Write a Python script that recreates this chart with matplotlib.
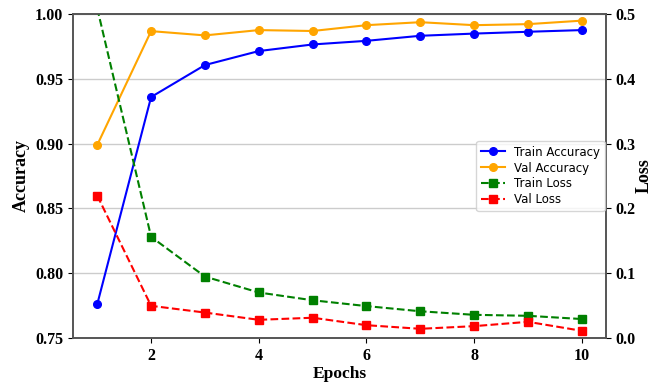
import numpy as np
import matplotlib.pyplot as plt

# podatki
epochs = [1, 2, 3, 4, 5, 6, 7, 8, 9, 10]
train_acc = [0.776, 0.936, 0.9607, 0.9715, 0.9766, 0.9794, 0.9833, 0.985, 0.9864, 0.9877]
val_acc = [0.899, 0.9869, 0.9836, 0.9877, 0.987, 0.9915, 0.9938, 0.9915, 0.9923, 0.995]
train_loss = [0.509, 0.156, 0.0946, 0.070, 0.058, 0.049, 0.041, 0.0355, 0.034, 0.029]
val_loss = [0.2196, 0.0494, 0.039, 0.0278, 0.031, 0.0195, 0.0139, 0.018, 0.0247, 0.0108]

serif = {'family': 'Liberation Serif', 'weight': 'bold'}

fig, ax1 = plt.subplots(figsize=(6.58, 3.83), dpi=100)
fig.subplots_adjust(left=0.111, right=0.921, top=0.963, bottom=0.118)

l1, = ax1.plot(epochs, train_acc, 'o-', color='blue', lw=1.5, ms=5.5, label='Train Accuracy')
l2, = ax1.plot(epochs, val_acc, 'o-', color='orange', lw=1.5, ms=5.5, label='Val Accuracy')
ax1.set_ylim(0.75, 1.0)
ax1.set_yticks([0.75, 0.80, 0.85, 0.90, 0.95, 1.00])
ax1.set_xticks([2, 4, 6, 8, 10])
ax1.grid(axis='y', color='#cccccc', lw=1)
ax1.set_xlabel('Epochs', fontdict=serif, fontsize=12.5, labelpad=2)
ax1.set_ylabel('Accuracy', fontdict=serif, fontsize=13)

ax2 = ax1.twinx()
l3, = ax2.plot(epochs, train_loss, 's--', color='green', lw=1.5, ms=5.5, label='Train Loss')
l4, = ax2.plot(epochs, val_loss, 's--', color='red', lw=1.5, ms=5.5, label='Val Loss')
ax2.set_ylim(0.0, 0.5)
ax2.set_yticks([0.0, 0.1, 0.2, 0.3, 0.4, 0.5])
ax2.set_ylabel('Loss', fontdict=serif, fontsize=13, labelpad=0)

for ax in (ax1, ax2):
    for lab in ax.get_xticklabels() + ax.get_yticklabels():
        lab.set_fontfamily('Liberation Serif')
        lab.set_fontweight('bold')
        lab.set_fontsize(11.5)
    for sp in ax.spines.values():
        sp.set_color('#555555')
        sp.set_linewidth(1.2)

ax2.legend(handles=[l1, l2, l3, l4], loc='center right', fontsize=8.5,
           borderaxespad=0.1, labelspacing=0.25)

plt.savefig('out.png', dpi=100)
